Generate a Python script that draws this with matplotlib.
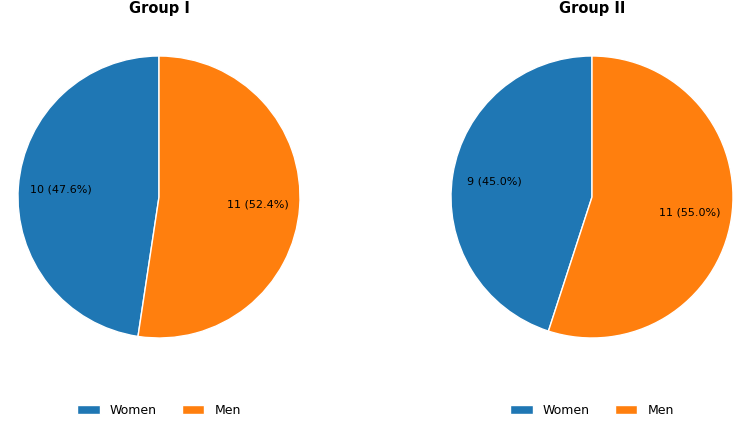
import matplotlib.pyplot as plt

labels = ["Women", "Men"]
group1 = [10, 11]
group2 = [9, 11]
titles = ["Group I", "Group II"]
colors = ["#1f77b4", "#ff7f0e"]

fig = plt.figure(figsize=(7.5, 4.25), dpi=100)

centers = [159, 592]
r = 141
for cx, data, title in zip(centers, [group1, group2], titles):
    ax = fig.add_axes([(cx - r) / 750, (425 - 197 - r) / 425, 2 * r / 750, 2 * r / 425])
    total = sum(data)
    wedges, _, autotexts = ax.pie(
        data, colors=colors, startangle=90,
        autopct=lambda p, t=total: f"{round(p * t / 100)} ({p:.1f}%)",
        pctdistance=0.7, wedgeprops=dict(edgecolor="white", linewidth=1),
        textprops=dict(fontsize=8))
    ax.set_xlim(-1, 1)
    ax.set_ylim(-1, 1)
    ax.set_aspect("equal")
    fig.text(cx / 750, 1 - 8 / 425, title, ha="center", va="center",
             fontsize=10.5, fontweight="bold")
    fig.legend(wedges, labels, loc="center", bbox_to_anchor=(cx / 750, 1 - 410 / 425),
               ncol=2, frameon=False, fontsize=9, handlelength=1.8)

fig.savefig("out.png", dpi=100)
